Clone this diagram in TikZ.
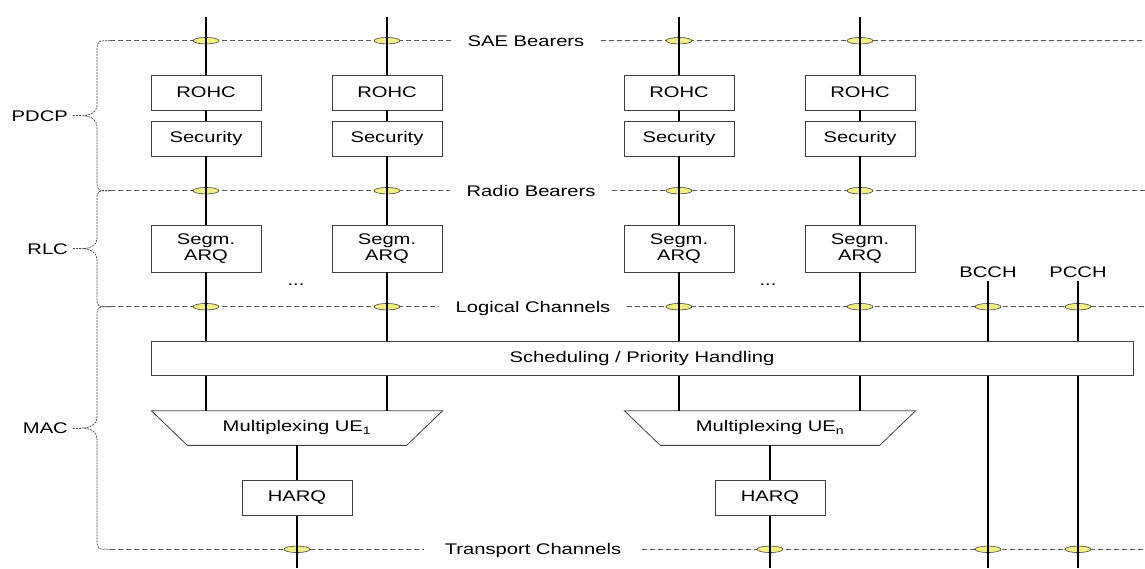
\documentclass[tikz,border=0pt]{standalone}
\usepackage{fontspec}
\setmainfont{Liberation Sans}[FakeStretch=1.31]
\usepackage{tikz}
\usetikzlibrary{shapes.geometric}

\definecolor{bearerfill}{RGB}{242,238,128}

\begin{document}
\begin{tikzpicture}[x=1pt, y=-1pt,
        font=\fontsize{15.4}{15.5}\selectfont,
        box/.style={rectangle, draw=black!75, line width=0.8pt, fill=white, minimum width=110pt, minimum height=35pt, inner sep=0pt, align=center},
        bearer/.style={ellipse, draw=black!75, line width=0.6pt, fill=bearerfill, minimum width=26pt, minimum height=6.5pt, inner sep=0pt},
        layer/.style={draw=black!65, line width=0.8pt, dash pattern=on 5pt off 3pt},
        bracket/.style={draw=black!75, line width=0.7pt, dash pattern=on 2pt off 1pt},
        chan/.style={line width=1.6pt},
        caption/.style={inner xsep=16pt, inner ysep=0pt, text height=11pt, text depth=0pt}]
        \useasboundingbox (0,0) rectangle (1145,568);

        % Layer labels
        \node[anchor=east, inner xsep=5pt] (pdcp) at (73,115.7) {PDCP};
        \node[anchor=east, inner xsep=5pt] (rlc) at (73,248.7) {RLC};
        \node[anchor=east, inner xsep=5pt] (mac) at (73,428) {MAC};

        % Bearer and channel lines
        \node[caption] (sae) at (526,40.7) {SAE Bearers};
        \node[caption] (radio) at (531,190.7) {Radio Bearers};
        \node[caption] (logical) at (533,306.7) {Logical Channels};
        \node[caption, inner xsep=21pt] (transport) at (533,549.3) {Transport Channels};
        \coordinate (saeL) at (110,40.7);   \coordinate (saeR) at (1145,40.7);
        \coordinate (radioL) at (110,190.7); \coordinate (radioR) at (1145,190.7);
        \coordinate (logicalL) at (110,306.7); \coordinate (logicalR) at (1145,306.7);
        \coordinate (transportL) at (110,549.3); \coordinate (transportR) at (1145,549.3);
        \draw[layer] (saeL) -- (sae) (sae) -- (saeR);
        \draw[layer] (radioL) -- (radio) (radio) -- (radioR);
        \draw[layer] (logicalL) -- (logical) (logical) -- (logicalR);
        \draw[layer] (transportL) -- (transport) (transport) -- (transportR);

        % Braces
        \draw[bracket] (110,40.7) .. controls (97,40.7) .. (97,52) -- (97,106)
            .. controls (97,112) and (90,115.7) .. (82,115.7) coordinate (pdcptip)
            .. controls (90,115.7) and (97,119.5) .. (97,126) -- (97,180) .. controls (97,190.7) .. (110,190.7);
        \draw[bracket] (110,190.7) .. controls (97,190.7) .. (97,201) -- (97,239)
            .. controls (97,245) and (90,248.7) .. (82,248.7) coordinate (rlctip)
            .. controls (90,248.7) and (97,252.5) .. (97,259) -- (97,296) .. controls (97,306.7) .. (110,306.7);
        \draw[bracket] (110,306.7) .. controls (97,306.7) .. (97,317) -- (97,418)
            .. controls (97,424) and (90,428) .. (82,428) coordinate (mactip)
            .. controls (90,428) and (97,432) .. (97,438) -- (97,539) .. controls (97,549.3) .. (110,549.3);
        \draw[bracket] (pdcp) -- (pdcptip);
        \draw[bracket] (rlc) -- (rlctip);
        \draw[bracket] (mac) -- (mactip);

        % Bearer points
        \node[bearer] (sa) at (206,40.7) {};  \node[bearer] (sb) at (387,40.7) {};
        \node[bearer] (sc) at (679,40.7) {};  \node[bearer] (sd) at (860,40.7) {};
        \node[bearer] (ra) at (206,190.7) {}; \node[bearer] (rb) at (387,190.7) {};
        \node[bearer] (rc) at (679,190.7) {}; \node[bearer] (rd) at (860,190.7) {};
        \node[bearer] (la) at (206,306.7) {}; \node[bearer] (lb) at (387,306.7) {};
        \node[bearer] (lc) at (679,306.7) {}; \node[bearer] (ld) at (860,306.7) {};
        \node[bearer] (lbcch) at (988,306.7) {}; \node[bearer] (lpcch) at (1078,306.7) {};
        \node[bearer] (ta) at (297,549.3) {}; \node[bearer] (tb) at (770,549.3) {};
        \node[bearer] (tbcch) at (988,549.3) {}; \node[bearer] (tpcch) at (1078,549.3) {};

        % PDCP and RLC entities
        \node[box] (rohca) at (206,92.5) {ROHC};
        \node[box] (rohcb) at (387,92.5) {ROHC};
        \node[box] (rohcc) at (679,92.5) {ROHC};
        \node[box] (rohcd) at (860,92.5) {ROHC};
        \node[box] (seca) at (206,138.5) {Security};
        \node[box] (secb) at (387,138.5) {Security};
        \node[box] (secc) at (679,138.5) {Security};
        \node[box] (secd) at (860,138.5) {Security};
        \node[box, minimum height=47pt] (arqa) at (206,248.5) {Segm.\\ARQ};
        \node[box, minimum height=47pt] (arqb) at (387,248.5) {Segm.\\ARQ};
        \node[box, minimum height=47pt] (arqc) at (679,248.5) {Segm.\\ARQ};
        \node[box, minimum height=47pt] (arqd) at (860,248.5) {Segm.\\ARQ};
        \node (dotsl) at (296,285) {...};
        \node (dotsr) at (768,285) {...};
        \node (bcch) at (988,272) {BCCH};
        \node (pcch) at (1078,272) {PCCH};

        % MAC entities
        \node[box, minimum width=982pt, minimum height=34.5pt] (sched) at (642,358.2) {Scheduling / Priority Handling};
        \node[minimum width=219pt, minimum height=34.3pt, inner sep=0pt] (mux1) at (297,428) {Multiplexing UE\textsubscript{1}};
        \node[minimum width=219pt, minimum height=34.3pt, inner sep=0pt] (muxn) at (770,428) {Multiplexing UE\textsubscript{n}};
        \draw[draw=black!75, line width=0.8pt] (mux1.south west) -- (mux1.south east) -- ([xshift=36pt]mux1.north east) -- ([xshift=-36pt]mux1.north west) -- cycle;
        \draw[draw=black!75, line width=0.8pt] (muxn.south west) -- (muxn.south east) -- ([xshift=36pt]muxn.north east) -- ([xshift=-36pt]muxn.north west) -- cycle;
        \node[box, minimum height=34.5pt] (harq1) at (297,498) {HARQ};
        \node[box, minimum height=34.5pt] (harqn) at (770,498) {HARQ};

        % Channels
        \coordinate (topa) at (206,17); \coordinate (topb) at (387,17);
        \coordinate (topc) at (679,17); \coordinate (topd) at (860,17);
        \coordinate (bot1) at (297,568); \coordinate (botn) at (770,568);
        \coordinate (botbcch) at (988,568); \coordinate (botpcch) at (1078,568);

        \draw[chan] (topa) -- (rohca) -- (seca) -- (arqa) -- (arqa |- sched.north);
        \draw[chan] (topb) -- (rohcb) -- (secb) -- (arqb) -- (arqb |- sched.north);
        \draw[chan] (topc) -- (rohcc) -- (secc) -- (arqc) -- (arqc |- sched.north);
        \draw[chan] (topd) -- (rohcd) -- (secd) -- (arqd) -- (arqd |- sched.north);
        \draw[chan] (arqa |- sched.south) -- (arqa |- mux1.north);
        \draw[chan] (arqb |- sched.south) -- (arqb |- mux1.north);
        \draw[chan] (arqc |- sched.south) -- (arqc |- muxn.north);
        \draw[chan] (arqd |- sched.south) -- (arqd |- muxn.north);
        \draw[chan] (mux1) -- (harq1) -- (bot1);
        \draw[chan] (muxn) -- (harqn) -- (botn);
        \draw[chan] (bcch) -- (bcch |- sched.north);
        \draw[chan] (pcch) -- (pcch |- sched.north);
        \draw[chan] (bcch |- sched.south) -- (botbcch);
        \draw[chan] (pcch |- sched.south) -- (botpcch);

    \end{tikzpicture}
\end{document}
